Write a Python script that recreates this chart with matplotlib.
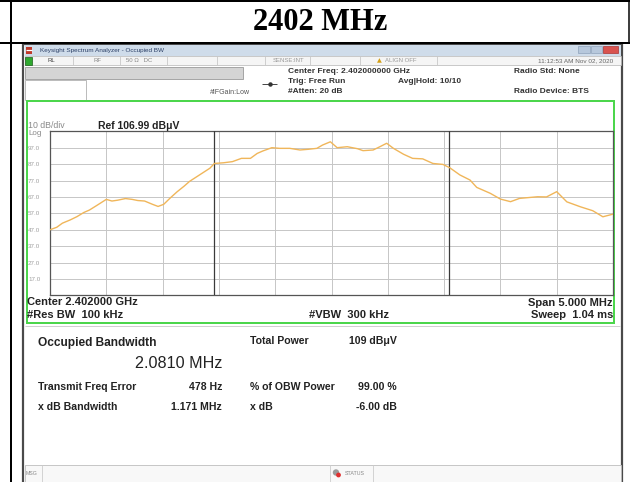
import matplotlib
matplotlib.use("Agg")
import matplotlib.pyplot as plt
from matplotlib.patches import Rectangle, Circle

plt.rcParams['font.family'] = ['Liberation Sans', 'DejaVu Sans']

# ---------------- data ----------------
TITLE = "2402 MHz"
CENTER_GHZ = 2.402
SPAN_MHZ = 5.0
REF_LEVEL = 106.99
DB_PER_DIV = 10.0
N_DIV = 10
OBW_MHZ = 2.0810
FREQ_ERR_HZ = 478
RBW_KHZ = 100
VBW_KHZ = 300
SWEEP_MS = 1.04

freq_offset_mhz = [-2.50, -2.44, -2.39, -2.32, -2.26, -2.20, -2.15, -2.08, -2.00, -1.95,
                   -1.90, -1.83, -1.77, -1.72, -1.66, -1.59, -1.54, -1.49, -1.43, -1.37,
                   -1.31, -1.26, -1.17, -1.08, -1.04, -0.96, -0.88, -0.80, -0.72, -0.66,
                   -0.61, -0.53, -0.46, -0.37, -0.28, -0.21, -0.13, -0.08, -0.01, 0.05,
                   0.14, 0.23, 0.28, 0.37, 0.43, 0.49, 0.55, 0.64, 0.72, 0.81,
                   0.90, 0.99, 1.05, 1.14, 1.23, 1.29, 1.41, 1.50, 1.59, 1.67,
                   1.83, 1.91, 2.00, 2.09, 2.21, 2.32, 2.41, 2.50]
level_dbuv = [47.0, 48.5, 51.0, 53.0, 55.0, 57.5, 59.0, 62.0, 65.5, 64.5,
              65.0, 66.0, 65.5, 64.8, 64.5, 62.5, 61.2, 62.5, 66.5, 70.2,
              73.5, 76.5, 80.5, 84.5, 87.4, 87.8, 88.5, 90.5, 90.5, 93.5,
              95.0, 97.0, 96.6, 96.6, 95.6, 96.0, 96.6, 98.6, 100.6, 97.0,
              97.6, 96.4, 95.2, 95.6, 97.6, 99.7, 96.6, 93.0, 90.5, 90.2,
              87.4, 86.8, 84.8, 80.4, 77.3, 72.8, 69.2, 65.7, 64.1, 66.1,
              67.1, 67.0, 70.2, 64.0, 61.0, 58.6, 54.9, 56.5]

y_tick_labels = ["97.0", "87.0", "77.0", "67.0", "57.0", "47.0", "37.0", "27.0", "17.0"]

results_left = [("Transmit Freq Error", "478 Hz"), ("x dB Bandwidth", "1.171 MHz")]
results_right = [("% of OBW Power", "99.00 %"), ("x dB", "-6.00 dB")]
total_power = ("Total Power", "109 dB\u03bcV")

# ---------------- figure ----------------
W, H = 630, 482
fig = plt.figure(figsize=(W / 100, H / 100), dpi=100)
bg = fig.add_axes([0, 0, 1, 1])
bg.set_xlim(0, W)
bg.set_ylim(H, 0)
bg.axis('off')

PX = 0.72  # points per pixel


def rect(x0, y0, x1, y1, fc='none', ec='none', lw=0.0, z=1):
    bg.add_patch(Rectangle((x0, y0), x1 - x0, y1 - y0, facecolor=fc,
                           edgecolor=ec, linewidth=lw, zorder=z))


def line(xs, ys, c, lw, z=2):
    bg.plot(xs, ys, color=c, lw=lw, solid_capstyle='butt', zorder=z)


def txt(x, y, s, size, ha='left', weight='normal', color='#222222', **kw):
    bg.text(x, y, s, fontsize=size, ha=ha, va='center', fontweight=weight,
            color=color, zorder=5, **kw)


# outer table
line([0, W], [1, 1], 'black', 2 * PX)
line([0, W], [43, 43], 'black', 2 * PX)
line([11, 11], [0, H], 'black', 2 * PX)
line([629, 629], [0, 43], 'black', 1.5 * PX)
bg.text(320, 23, TITLE, fontsize=22, ha='center', va='center', fontweight='bold',
        family=['Liberation Serif', 'DejaVu Serif'], color='black')

# window frame
rect(23, 44, 622, 484, fc='white', ec='#4a4a4a', lw=2.2 * PX, z=1)
# title bar
rect(24.5, 45, 620.5, 55.5, fc='#cfdcea', z=2)
rect(26, 46.5, 32, 53.5, fc='#c0392b', z=3)
line([26, 32], [50, 50], 'white', 1.2 * PX, z=4)
txt(40, 50.3, "Keysight Spectrum Analyzer - Occupied BW", 4.6, color='#2b3f66')
rect(578, 45.5, 590, 52.5, fc='#b7c8dc', ec='#8fa3bb', lw=0.5, z=3)
rect(591, 45.5, 602, 52.5, fc='#b7c8dc', ec='#8fa3bb', lw=0.5, z=3)
rect(603, 45.5, 618, 52.5, fc='#d9534f', ec='#a33', lw=0.5, z=3)

# status row
rect(24.5, 56, 620.5, 65, fc='#f5f5f5', ec='#b5b5b5', lw=0.5, z=2)
for sx in [73, 120, 167, 217, 265, 310, 360, 437]:
    line([sx, sx], [56, 65], '#c8c8c8', 0.6, z=3)
rect(25, 56.5, 32, 64.5, fc='#2fa82f', ec='#1a5e1a', lw=0.5, z=3)
txt(47, 60.5, "RL", 4.3, color='#444444')
txt(94, 60.5, "RF", 4.3, color='#888888')
txt(126, 60.5, "50 \u03a9   DC", 4.3, color='#888888')
txt(273, 60.5, "SENSE:INT", 4.3, color='#999999')
txt(377, 60.3, "\u25b2", 4.5, color='#d4a017', family=['DejaVu Sans'])
txt(385, 60.5, "ALIGN OFF", 4.3, color='#999999')
txt(613, 60.5, "11:12:53 AM Nov 02, 2020", 4.6, ha='right', color='#666666')

# header fields
rect(25, 67, 243, 79, fc='#d4d4d4', ec='#9a9a9a', lw=0.6, z=2)
rect(25, 80, 86, 99.5, fc='white', ec='#b0b0b0', lw=0.6, z=2)
txt(288, 71.3, "Center Freq: %.9f GHz" % CENTER_GHZ, 6.0, weight='bold', color='#333333')
txt(288, 81.5, "Trig: Free Run", 6.0, weight='bold', color='#333333')
txt(288, 91.5, "#Atten: 20 dB", 6.0, weight='bold', color='#333333')
txt(398, 81.5, "Avg|Hold: 10/10", 6.0, weight='bold', color='#333333')
txt(514, 71.3, "Radio Std: None", 6.0, weight='bold', color='#333333')
txt(514, 91.5, "Radio Device: BTS", 6.0, weight='bold', color='#333333')
txt(210, 93, "#IFGain:Low", 5.0, color='#555555')
line([262, 277], [83.5, 83.5], '#444444', 0.7, z=3)
bg.plot([269.5], [83.5], marker='o', ms=2.2, color='#333333', zorder=4)

# green frame
rect(27, 101, 614, 323, fc='white', ec='#4cd64c', lw=2 * PX, z=2)
txt(28, 126, "10 dB/div", 6.3, color='#8a8a8a')
txt(28, 133.5, "Log", 5.8, color='#8a8a8a')
txt(98, 126, "Ref %.2f dB\u03bcV" % REF_LEVEL, 7.5, weight='bold')
txt(27, 302, "Center %.6f GHz" % CENTER_GHZ, 8, weight='bold')
txt(27, 315, "#Res BW  %d kHz" % RBW_KHZ, 8, weight='bold')
txt(309, 315, "#VBW  %d kHz" % VBW_KHZ, 8, weight='bold')
txt(613, 302.5, "Span %.3f MHz" % SPAN_MHZ, 8, ha='right', weight='bold')
txt(613, 315, "Sweep  %.2f ms" % SWEEP_MS, 8, ha='right', weight='bold')
line([25, 620], [326, 326], '#cfcfcf', 0.7)

# results panel
txt(38, 343, "Occupied Bandwidth", 8.6, weight='bold')
txt(222, 363.5, "%.4f MHz" % OBW_MHZ, 11.6, ha='right')
for i, (lab, val) in enumerate(results_left):
    y = 387 + i * 19.5
    txt(38, y, lab, 7.6, weight='bold')
    txt(222, y, val, 7.6, ha='right', weight='bold')
txt(250, 341, total_power[0], 7.6, weight='bold')
txt(397, 341, total_power[1], 7.6, ha='right', weight='bold')
for i, (lab, val) in enumerate(results_right):
    y = 387 + i * 19.5
    txt(250, y, lab, 7.6, weight='bold')
    txt(397, y, val, 7.6, ha='right', weight='bold')

# bottom message bar
rect(24.5, 465, 620.5, 483, fc='#f8f8f8', ec='#bdbdbd', lw=0.6, z=2)
for sx in [42, 330, 373]:
    line([sx, sx], [465, 482], '#cccccc', 0.6, z=3)
txt(26, 473.5, "MSG", 3.8, color='#888888')
bg.add_patch(Circle((336, 472.5), 3.2, facecolor='#9a9a9a', zorder=4))
bg.add_patch(Circle((338.5, 475), 2.4, facecolor='#e03030', zorder=5))
txt(345, 473.5, "STATUS", 3.8, color='#888888')

# ---------------- spectrum graticule ----------------
L, R, T, B = 50, 613, 131.3, 295.4
ax = fig.add_axes([L / W, 1 - B / H, (R - L) / W, (B - T) / H])
ax.set_zorder(3)
ax.set_facecolor('white')
half = SPAN_MHZ / 2
bottom = REF_LEVEL - N_DIV * DB_PER_DIV
ax.set_xlim(-half, half)
ax.set_ylim(bottom, REF_LEVEL)
ax.set_xticks([-half + k * SPAN_MHZ / N_DIV for k in range(1, N_DIV)])
ax.set_xticklabels([])
ax.set_yticks([REF_LEVEL - k * DB_PER_DIV for k in range(1, N_DIV)])
ax.set_yticklabels(y_tick_labels, fontsize=4.5, color='#a0a0a0', ha='left')
ax.tick_params(axis='both', length=0)
ax.tick_params(axis='y', pad=22 * PX)
ax.grid(True, color='#c6c6c6', lw=0.7)
for sp in ax.spines.values():
    sp.set_color('#555555')
    sp.set_linewidth(0.9)

err_mhz = FREQ_ERR_HZ / 1e6
ax.axvline(err_mhz - OBW_MHZ / 2, color='#3a3a3a', lw=0.9, zorder=3)
ax.axvline(err_mhz + OBW_MHZ / 2, color='#3a3a3a', lw=0.9, zorder=3)

ax.plot(freq_offset_mhz, level_dbuv, color='#f0b65a', lw=1.0, zorder=4)

fig.savefig("out.png", dpi=100)
